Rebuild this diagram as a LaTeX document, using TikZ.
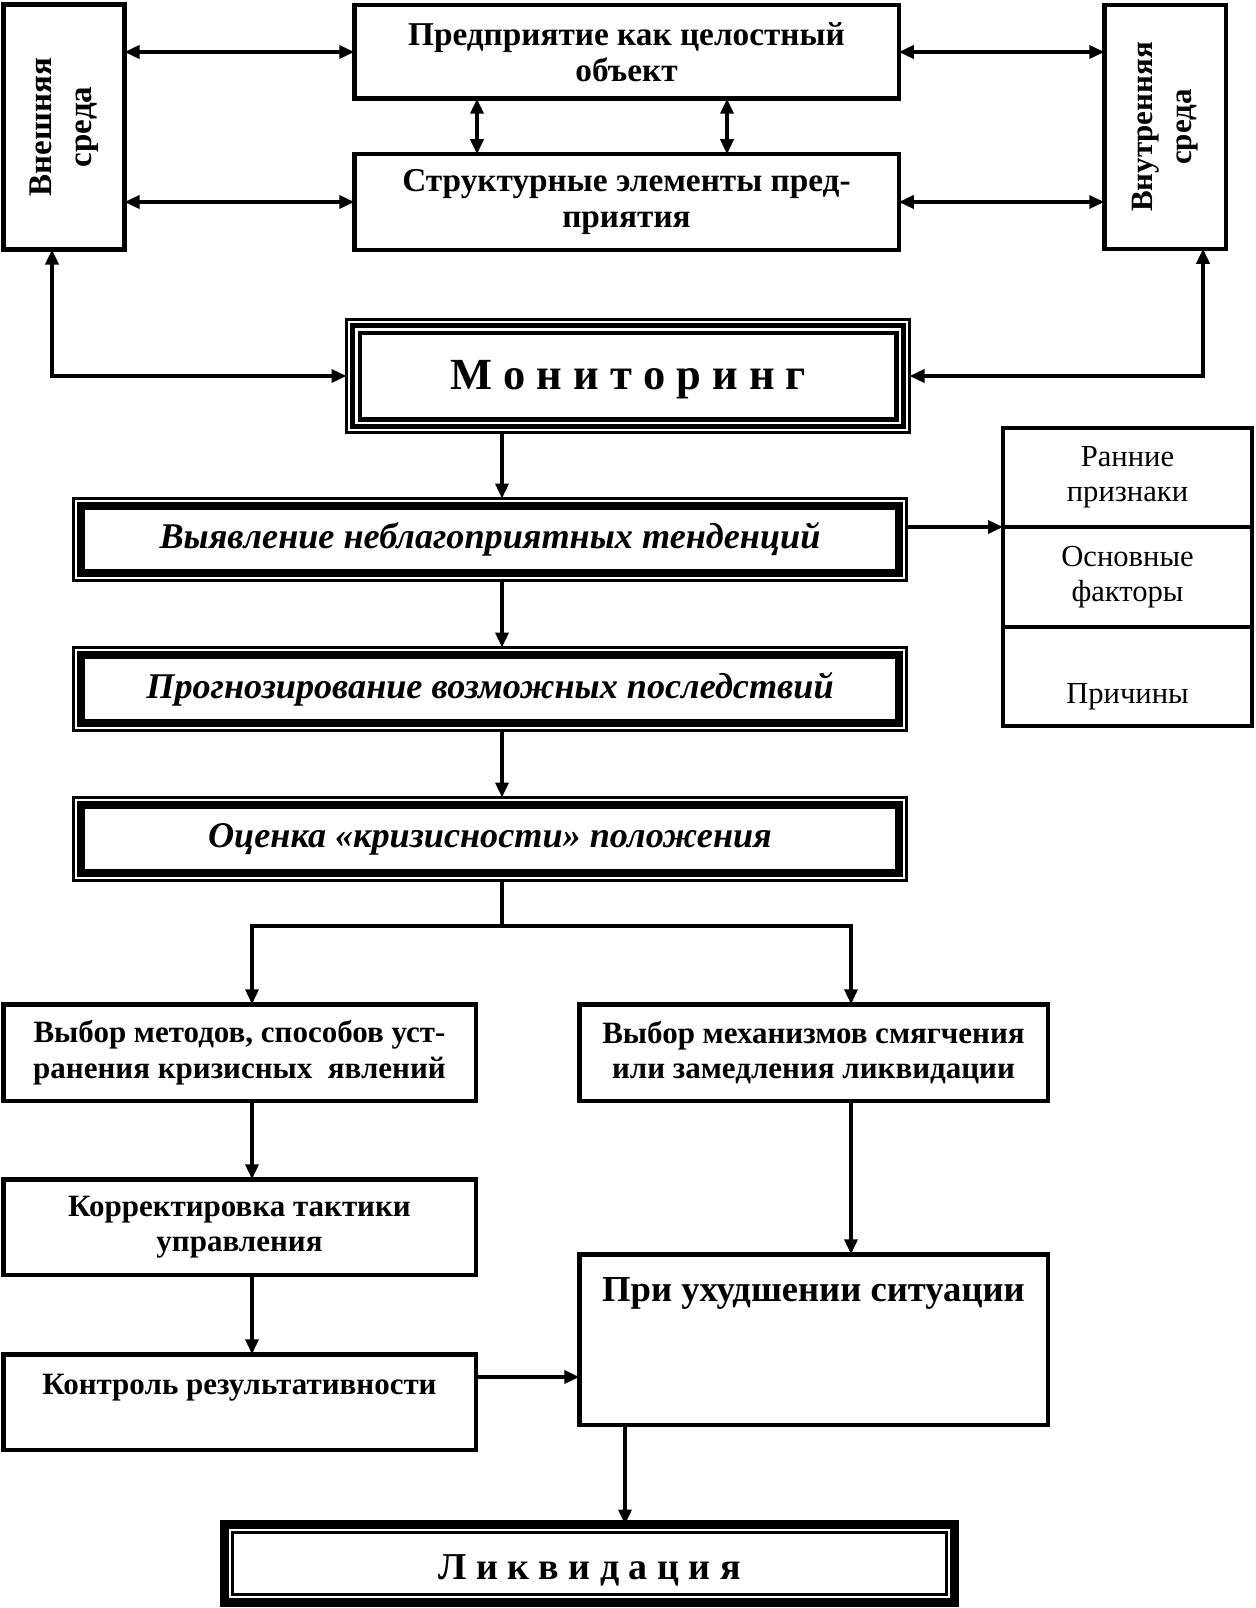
\documentclass[tikz,border=0pt]{standalone}
\usepackage{fontspec}
\setmainfont{Liberation Serif}
\usetikzlibrary{arrows.meta}
\begin{document}
\begin{tikzpicture}[x=1pt,y=-1pt,
  box/.style={draw, line width=4.5pt, inner sep=0pt, outer sep=0pt, align=center},
  frame/.style={draw, line width=3pt, inner sep=0pt, outer sep=0pt, align=center},
  lbl/.style={inner sep=0pt, outer sep=0pt, align=center},
  tt/.style={font=\bfseries\fontsize{33.3}{36.5}\selectfont},
  tb/.style={font=\bfseries\fontsize{31}{35.5}\selectfont},
  ti/.style={font=\bfseries\itshape\fontsize{36.2}{40}\selectfont},
  tr/.style={font=\fontsize{30.6}{35}\selectfont},
  tip/.tip={Triangle[length=15pt,width=13pt]},
  conn/.style={line width=3.5pt, -tip},
  dconn/.style={line width=3.5pt, tip-tip},
  plain/.style={line width=3.5pt}
]
\useasboundingbox (0,0) rectangle (1255,1608);
% top block
\node[box, minimum width=121pt, minimum height=245pt] (ext) at (64,127) {};
\node[lbl, font=\bfseries\fontsize{33}{40}\selectfont, rotate=90] (extT) at (ext.center) {Внешняя\\среда};
\node[box, tt, minimum width=544.5pt, minimum height=93.5pt] (ent) at (626.5,52) {Предприятие как целостный\\объект};
\node[box, tt, minimum width=544.5pt, minimum height=95.5pt] (str) at (626.5,202) {Структурные элементы пред-\\приятия};
\node[box, minimum width=121.5pt, minimum height=243.5pt] (int) at (1165,127) {};
\node[lbl, font=\bfseries\fontsize{31}{39}\selectfont, rotate=90] (intT) at (int.center) {Внутренняя\\среда};
% monitoring
\node[frame, minimum width=563pt, minimum height=113pt] (mon) at (628,376) {};
\draw[line width=5pt] ([shift={(6,6)}]mon.north west) rectangle ([shift={(-6,-6)}]mon.south east);
\draw[line width=4.5pt] ([shift={(13.25,13.25)}]mon.north west) rectangle ([shift={(-13.25,-13.25)}]mon.south east);
\node[lbl, font=\bfseries\fontsize{44.5}{50}\selectfont] (monT) at ([shift={(0,4)}]mon.center) {М о н и т о р и н г};
% italic chain
\node[frame, ti, minimum width=833pt, minimum height=82pt] (vyy) at (490,539.5) {Выявление неблагоприятных тенденций};
\node[frame, ti, minimum width=833pt, minimum height=83pt] (prog) at (490,689) {Прогнозирование возможных последствий};
\node[frame, ti, minimum width=833pt, minimum height=83pt] (ots) at (490,839) {Оценка «кризисности» положения};
\foreach \n in {vyy,prog,ots}{
  \draw[line width=8pt] ([shift={(7.5,7.5)}]\n.north west) rectangle ([shift={(-7.5,-7.5)}]\n.south east);
}
% side box
\node[box, tr, minimum width=249pt, minimum height=99pt] (r1) at (1127.5,477.5) {Ранние\\признаки};
\node[box, tr, minimum width=249pt, minimum height=100pt] (r2) at (1127.5,577) {Основные\\факторы};
\node[box, minimum width=249pt, minimum height=99pt] (r3) at (1127.5,676.5) {};
\node[lbl, tr] (r3T) at ([shift={(0,20)}]r3.center) {Причины};
% lower boxes
\node[box, tb, minimum width=472.5pt, minimum height=96.5pt] (vm) at (239.5,1052.5) {Выбор методов, способов уст-\\ранения кризисных\ \ явлений};
\node[box, tb, minimum width=468.5pt, minimum height=96.5pt] (mex) at (813.5,1052.5) {Выбор механизмов смягчения\\или замедления ликвидации};
\node[box, tb, minimum width=472.5pt, minimum height=95.5pt] (kor) at (239.5,1227) {Корректировка тактики\\управления};
\node[box, minimum width=472.5pt, minimum height=95.5pt] (kon) at (239.5,1402) {};
\node[lbl, tb] (konT) at ([shift={(0,-14)}]kon.center) {Контроль результативности};
\node[box, minimum width=468.5pt, minimum height=170.5pt] (pri) at (813.5,1339.5) {};
\node[lbl, font=\bfseries\fontsize{36.6}{40}\selectfont] (priT) at ([shift={(0,-46.5)}]pri.center) {При ухудшении ситуации};
% liquidation
\node[draw, line width=9pt, inner sep=0pt, outer sep=0pt, minimum width=730pt, minimum height=78pt] (lik) at (589.5,1563.5) {};
\draw[line width=3pt] ([shift={(8,8)}]lik.north west) rectangle ([shift={(-8,-8)}]lik.south east);
\node[lbl, font=\bfseries\fontsize{38}{40}\selectfont] (likT) at ([shift={(0,7)}]lik.center) {Л и к в и д а ц и я};
% helper coordinates
\coordinate (xa) at (52,0);
\coordinate (xb) at (1203,0);
\coordinate (xc) at (502,0);
\coordinate (xd) at (252,0);
\coordinate (xe) at (851,0);
\coordinate (xf) at (625,0);
\coordinate (v1) at (477,0);
\coordinate (v2) at (727,0);
\coordinate (ys) at (0,926);
\coordinate (yk) at (0,1377);
% connectors
\draw[dconn] (ent.west -| ext.east) -- (ent.west);
\draw[dconn] (str.west -| ext.east) -- (str.west);
\draw[dconn] (ent.east) -- (ent.east -| int.west);
\draw[dconn] (str.east) -- (str.east -| int.west);
\draw[dconn] (v1 |- ent.south) -- (v1 |- str.north);
\draw[dconn] (v2 |- ent.south) -- (v2 |- str.north);
\draw[dconn] (xa |- ext.south) |- (mon.west);
\draw[dconn] (xb |- int.south) |- (mon.east);
\draw[conn] (xc |- mon.south) -- (xc |- vyy.north);
\draw[conn] (vyy.east |- r1.south) -- (r1.south west);
\draw[conn] (xc |- vyy.south) -- (xc |- prog.north);
\draw[conn] (xc |- prog.south) -- (xc |- ots.north);
\draw[plain] (xc |- ots.south) -- (xc |- ys);
\draw[conn] (xc |- ys) -| (xd |- vm.north);
\draw[conn] (xc |- ys) -| (xe |- mex.north);
\draw[conn] (xd |- vm.south) -- (xd |- kor.north);
\draw[conn] (xd |- kor.south) -- (xd |- kon.north);
\draw[conn] (xe |- mex.south) -- (xe |- pri.north);
\draw[conn] (yk -| kon.east) -- (yk -| pri.west);
\draw[conn] (xf |- pri.south) -- (xf |- lik.north);
\end{tikzpicture}
\end{document}
